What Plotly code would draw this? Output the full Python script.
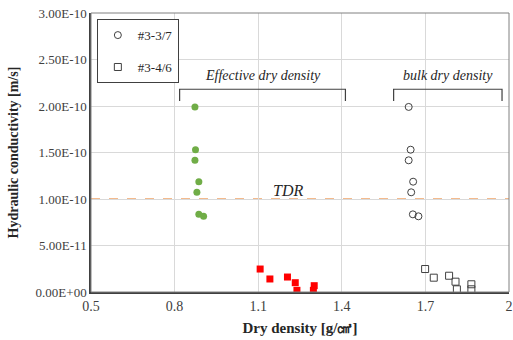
import plotly.graph_objects as go

# ---- data ----
eff_x = [0.873, 0.875, 0.873, 0.887, 0.880, 0.887, 0.904]
eff_y = [1.99e-10, 1.53e-10, 1.416e-10, 1.186e-10, 1.072e-10, 0.835e-10, 0.814e-10]
bulk37_x = [1.640, 1.647, 1.640, 1.656, 1.649, 1.655, 1.675]
bulk37_y = eff_y

eff46_x = [1.107, 1.142, 1.205, 1.233, 1.239, 1.301, 1.298]
eff46_y = [2.47e-11, 1.40e-11, 1.61e-11, 1.00e-11, 0.18e-11, 0.68e-11, 0.18e-11]
bulk46_x = [1.699, 1.730, 1.785, 1.808, 1.813, 1.865, 1.865]
bulk46_y = [2.47e-11, 1.54e-11, 1.75e-11, 1.11e-11, 0.29e-11, 0.83e-11, 0.29e-11]

tdr_value = 1.0e-10

x_ticks = [0.5, 0.8, 1.1, 1.4, 1.7, 2.0]
x_tick_labels = ["0.5", "0.8", "1.1", "1.4", "1.7", "2"]
y_ticks = [0, 0.5e-10, 1.0e-10, 1.5e-10, 2.0e-10, 2.5e-10, 3.0e-10]
y_tick_labels = ["0.00E+00", "5.00E-11", "1.00E-10", "1.50E-10", "2.00E-10", "2.50E-10", "3.00E-10"]

eff_bracket = [0.818, 1.413]
bulk_bracket = [1.586, 1.975]
bracket_top = 2.18e-10
bracket_bottom = 2.055e-10

SERIF = "Liberation Serif"

fig = go.Figure()

fig.add_trace(go.Scatter(
    x=eff_x, y=eff_y, mode="markers", showlegend=False,
    marker=dict(symbol="circle", size=7, color="#70AD47", line=dict(width=0))))
fig.add_trace(go.Scatter(
    x=eff46_x, y=eff46_y, mode="markers", showlegend=False,
    marker=dict(symbol="square", size=7, color="#FF0000", line=dict(width=0))))
fig.add_trace(go.Scatter(
    x=bulk37_x, y=bulk37_y, mode="markers", name="#3-3/7", legendgroup="a",
    marker=dict(symbol="circle-open", size=7, color="#404040", line=dict(width=1))))
fig.add_trace(go.Scatter(
    x=bulk46_x, y=bulk46_y, mode="markers", name="#3-4/6", legendgroup="b",
    marker=dict(symbol="square-open", size=7, color="#404040", line=dict(width=1))))

# TDR dashed line
fig.add_shape(type="line", xref="paper", x0=0, x1=1, yref="y", y0=tdr_value, y1=tdr_value,
              line=dict(color="#F0A468", width=1.5, dash="dash"), layer="below")

# brackets
for (a, b) in [eff_bracket, bulk_bracket]:
    fig.add_shape(type="path",
                  path=f"M {a} {bracket_bottom} L {a} {bracket_top} L {b} {bracket_top} L {b} {bracket_bottom}",
                  line=dict(color="#404040", width=1.2))

fig.add_annotation(x=sum(eff_bracket) / 2, y=2.33e-10, text="<i>Effective dry density</i>",
                   showarrow=False, font=dict(family=SERIF, size=14, color="#262626"))
fig.add_annotation(x=sum(bulk_bracket) / 2, y=2.33e-10, text="<i>bulk dry density</i>",
                   showarrow=False, font=dict(family=SERIF, size=14, color="#262626"))
fig.add_annotation(x=1.207, y=1.09e-10, text="<i>TDR</i>",
                   showarrow=False, font=dict(family=SERIF, size=16, color="#262626"))

# top/right border
fig.add_shape(type="rect", xref="paper", yref="paper", x0=0, x1=1, y0=0, y1=1,
              line=dict(color="#808080", width=1))

fig.update_layout(
    width=513, height=340,
    margin=dict(l=91, r=4, t=13, b=48),
    paper_bgcolor="white", plot_bgcolor="white",
    font=dict(family=SERIF, size=12, color="#404040"),
    legend=dict(x=0.014, y=0.978, xanchor="left", yanchor="top",
                bordercolor="#404040", borderwidth=1, bgcolor="white",
                itemwidth=30, tracegroupgap=12,
                font=dict(family=SERIF, size=13, color="#262626")),
    xaxis=dict(range=[0.5, 2.0], tickvals=x_ticks, ticktext=x_tick_labels,
               showgrid=True, gridcolor="#D9D9D9", gridwidth=1,
               showline=True, linecolor="#404040", linewidth=1.5, zeroline=False,
               ticks="", ticklen=0, ticklabeloverflow="allow", automargin=False,
               tickfont=dict(family=SERIF, size=14, color="#404040"),
               title=dict(text="<b>Dry density [g/㎤]</b>",
                          font=dict(family=SERIF, size=15, color="#262626"), standoff=10)),
    yaxis=dict(range=[0, 3.0e-10], tickvals=y_ticks, ticktext=y_tick_labels,
               showgrid=True, gridcolor="#D9D9D9", gridwidth=1,
               showline=True, linecolor="#404040", linewidth=1.5, zeroline=False,
               ticks="", ticklen=0, ticklabeloverflow="allow", automargin=False,
               tickfont=dict(family=SERIF, size=13, color="#404040"),
               title=dict(text="<b>Hydraulic conductivity [m/s]</b>",
                          font=dict(family=SERIF, size=14, color="#262626"), standoff=14)),
)

fig.write_html("out.html",
               config={"displayModeBar": False},
               post_script="document.body.style.margin='0';document.body.style.overflow='hidden';")
